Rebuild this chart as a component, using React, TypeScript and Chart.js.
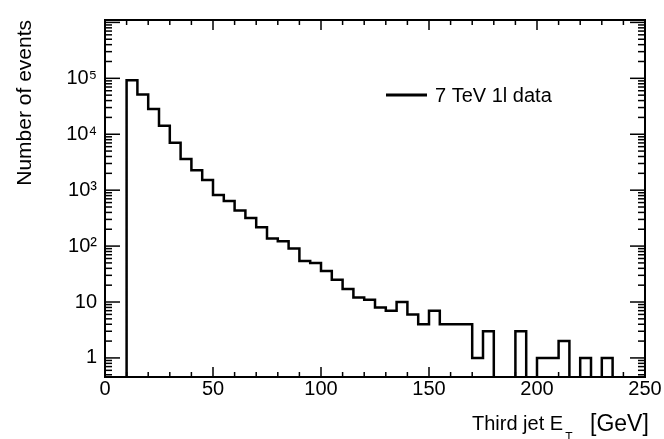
import { useEffect, useRef } from "react";
import { Chart, registerables } from "chart.js";

Chart.register(...registerables);

// ---- data ----
const binLowEdges = [
  10, 15, 20, 25, 30, 35, 40, 45, 50, 55, 60, 65, 70, 75, 80, 85, 90, 95, 100,
  105, 110, 115, 120, 125, 130, 135, 140, 145, 150, 155, 160, 165, 170, 175,
  180, 185, 190, 195, 200, 205, 210, 215, 220, 225, 230,
];
const binWidth = 5;
const eventCounts = [
  92300, 51400, 28300, 14200, 7020, 3610, 2270, 1520, 820, 643, 432, 318, 217,
  136, 122, 91, 54, 50, 36, 25, 17, 12, 11, 8, 7, 10, 6, 4, 7, 4, 4, 4, 1, 3,
  0, 0, 3, 0, 1, 1, 2, 0, 1, 0, 1,
];
const xTickValues = [0, 50, 100, 150, 200, 250];
const yTickValues = [1, 10, 100, 1000, 10000, 100000];
const yTickLabels = ["1", "10", "10²", "10³", "10⁴", "10⁵"];
const seriesLabel = "7 TeV 1l data";
const xTitleMain = "Third jet E";
const xTitleSub = "T";
const xTitleUnit = "[GeV]";
const yTitleText = "Number of events";

const FONT = "'Liberation Sans', Arial, Helvetica, sans-serif";
const FLOOR = 1e-3; // empty bins drop below the axis range

export default function App() {
  const canvasRef = useRef<HTMLCanvasElement | null>(null);

  useEffect(() => {
    const canvas = canvasRef.current;
    if (!canvas) return;

    const last = binLowEdges.length - 1;
    const points = [
      { x: binLowEdges[0], y: FLOOR },
      ...binLowEdges.map((x, i) => ({
        x,
        y: eventCounts[i] > 0 ? eventCounts[i] : FLOOR,
      })),
      { x: binLowEdges[last] + binWidth, y: FLOOR },
    ];

    const decorPlugin = {
      id: "decor",
      afterDraw(chart: any) {
        const { ctx, chartArea } = chart;
        const { left, right, top, bottom } = chartArea;
        const xs = chart.scales.x;
        const ys = chart.scales.y;
        ctx.save();
        ctx.strokeStyle = "#000";
        ctx.lineWidth = 1.5;
        const seg = (x1: number, y1: number, x2: number, y2: number) => {
          ctx.beginPath();
          ctx.moveTo(x1, y1);
          ctx.lineTo(x2, y2);
          ctx.stroke();
        };
        // x ticks (inside, top and bottom)
        for (let v = xs.min; v <= xs.max + 1e-9; v += 10) {
          const px = xs.getPixelForValue(v);
          const len = Math.abs(v % 50) < 1e-9 ? 10 : 5;
          seg(px, bottom, px, bottom - len);
          seg(px, top, px, top + len);
        }
        // y ticks (log, inside, left and right)
        for (let k = -1; k <= 6; k++) {
          for (let m = 1; m <= 9; m++) {
            const v = m * Math.pow(10, k);
            if (v < ys.min || v > ys.max) continue;
            const py = ys.getPixelForValue(v);
            const len = m === 1 ? 15 : 7;
            seg(left, py, left + len, py);
            seg(right, py, right - len, py);
          }
        }
        // frame
        ctx.lineWidth = 2;
        ctx.strokeRect(left, top, right - left, bottom - top);

        // legend
        ctx.lineWidth = 3;
        seg(386, 95, 427, 95);
        ctx.fillStyle = "#000";
        ctx.font = `20px ${FONT}`;
        ctx.textAlign = "left";
        ctx.textBaseline = "middle";
        ctx.fillText(seriesLabel, 435, 96);

        // x title with subscript
        ctx.textBaseline = "alphabetic";
        ctx.font = `20px ${FONT}`;
        ctx.fillText(xTitleMain, 472, 430);
        const w = ctx.measureText(xTitleMain).width;
        ctx.font = `12px ${FONT}`;
        ctx.fillText(xTitleSub, 472 + w + 2, 441);
        ctx.font = `23px ${FONT}`;
        ctx.fillText(xTitleUnit, 590, 431);
        ctx.restore();
      },
    };

    const chart = new Chart(canvas, {
      type: "line",
      data: {
        datasets: [
          {
            label: seriesLabel,
            data: points,
            stepped: true,
            borderColor: "#000",
            borderWidth: 2.5,
            pointRadius: 0,
            fill: false,
            tension: 0,
          },
        ],
      },
      options: {
        responsive: false,
        animation: false,
        layout: { padding: { top: 8, right: 19, left: 0, bottom: 0 } },
        plugins: {
          legend: { display: false },
          tooltip: { enabled: false },
        },
        scales: {
          x: {
            type: "linear",
            min: 0,
            max: 250,
            afterBuildTicks: (s: any) => {
              s.ticks = xTickValues.map((v) => ({ value: v }));
            },
            afterFit: (s: any) => {
              s.height = 62;
            },
            ticks: {
              font: { family: FONT, size: 20 },
              color: "#000",
              padding: 0,
              maxRotation: 0,
            },
            grid: { display: false, drawTicks: false },
            border: { display: false },
          },
          y: {
            type: "logarithmic",
            min: 0.456,
            max: 1.104e6,
            afterBuildTicks: (s: any) => {
              s.ticks = yTickValues.map((v) => ({ value: v }));
            },
            afterFit: (s: any) => {
              s.width = 105;
            },
            ticks: {
              font: { family: FONT, size: 20 },
              color: "#000",
              padding: 8,
              callback: (value: any) => {
                const i = yTickValues.indexOf(Number(value));
                return i >= 0 ? yTickLabels[i] : "";
              },
            },
            title: {
              display: true,
              text: yTitleText,
              align: "end",
              color: "#000",
              font: { family: FONT, size: 21 },
              padding: { top: 13, bottom: 0 },
            },
            grid: { display: false, drawTicks: false },
            border: { display: false },
          },
        },
      },
      plugins: [decorPlugin],
    } as any);

    return () => chart.destroy();
  }, []);

  return (
    <div style={{ position: "absolute", left: 0, top: 0, width: 664, height: 439, background: "#fff" }}>
      <canvas ref={canvasRef} width={664} height={439} style={{ display: "block" }} />
    </div>
  );
}
